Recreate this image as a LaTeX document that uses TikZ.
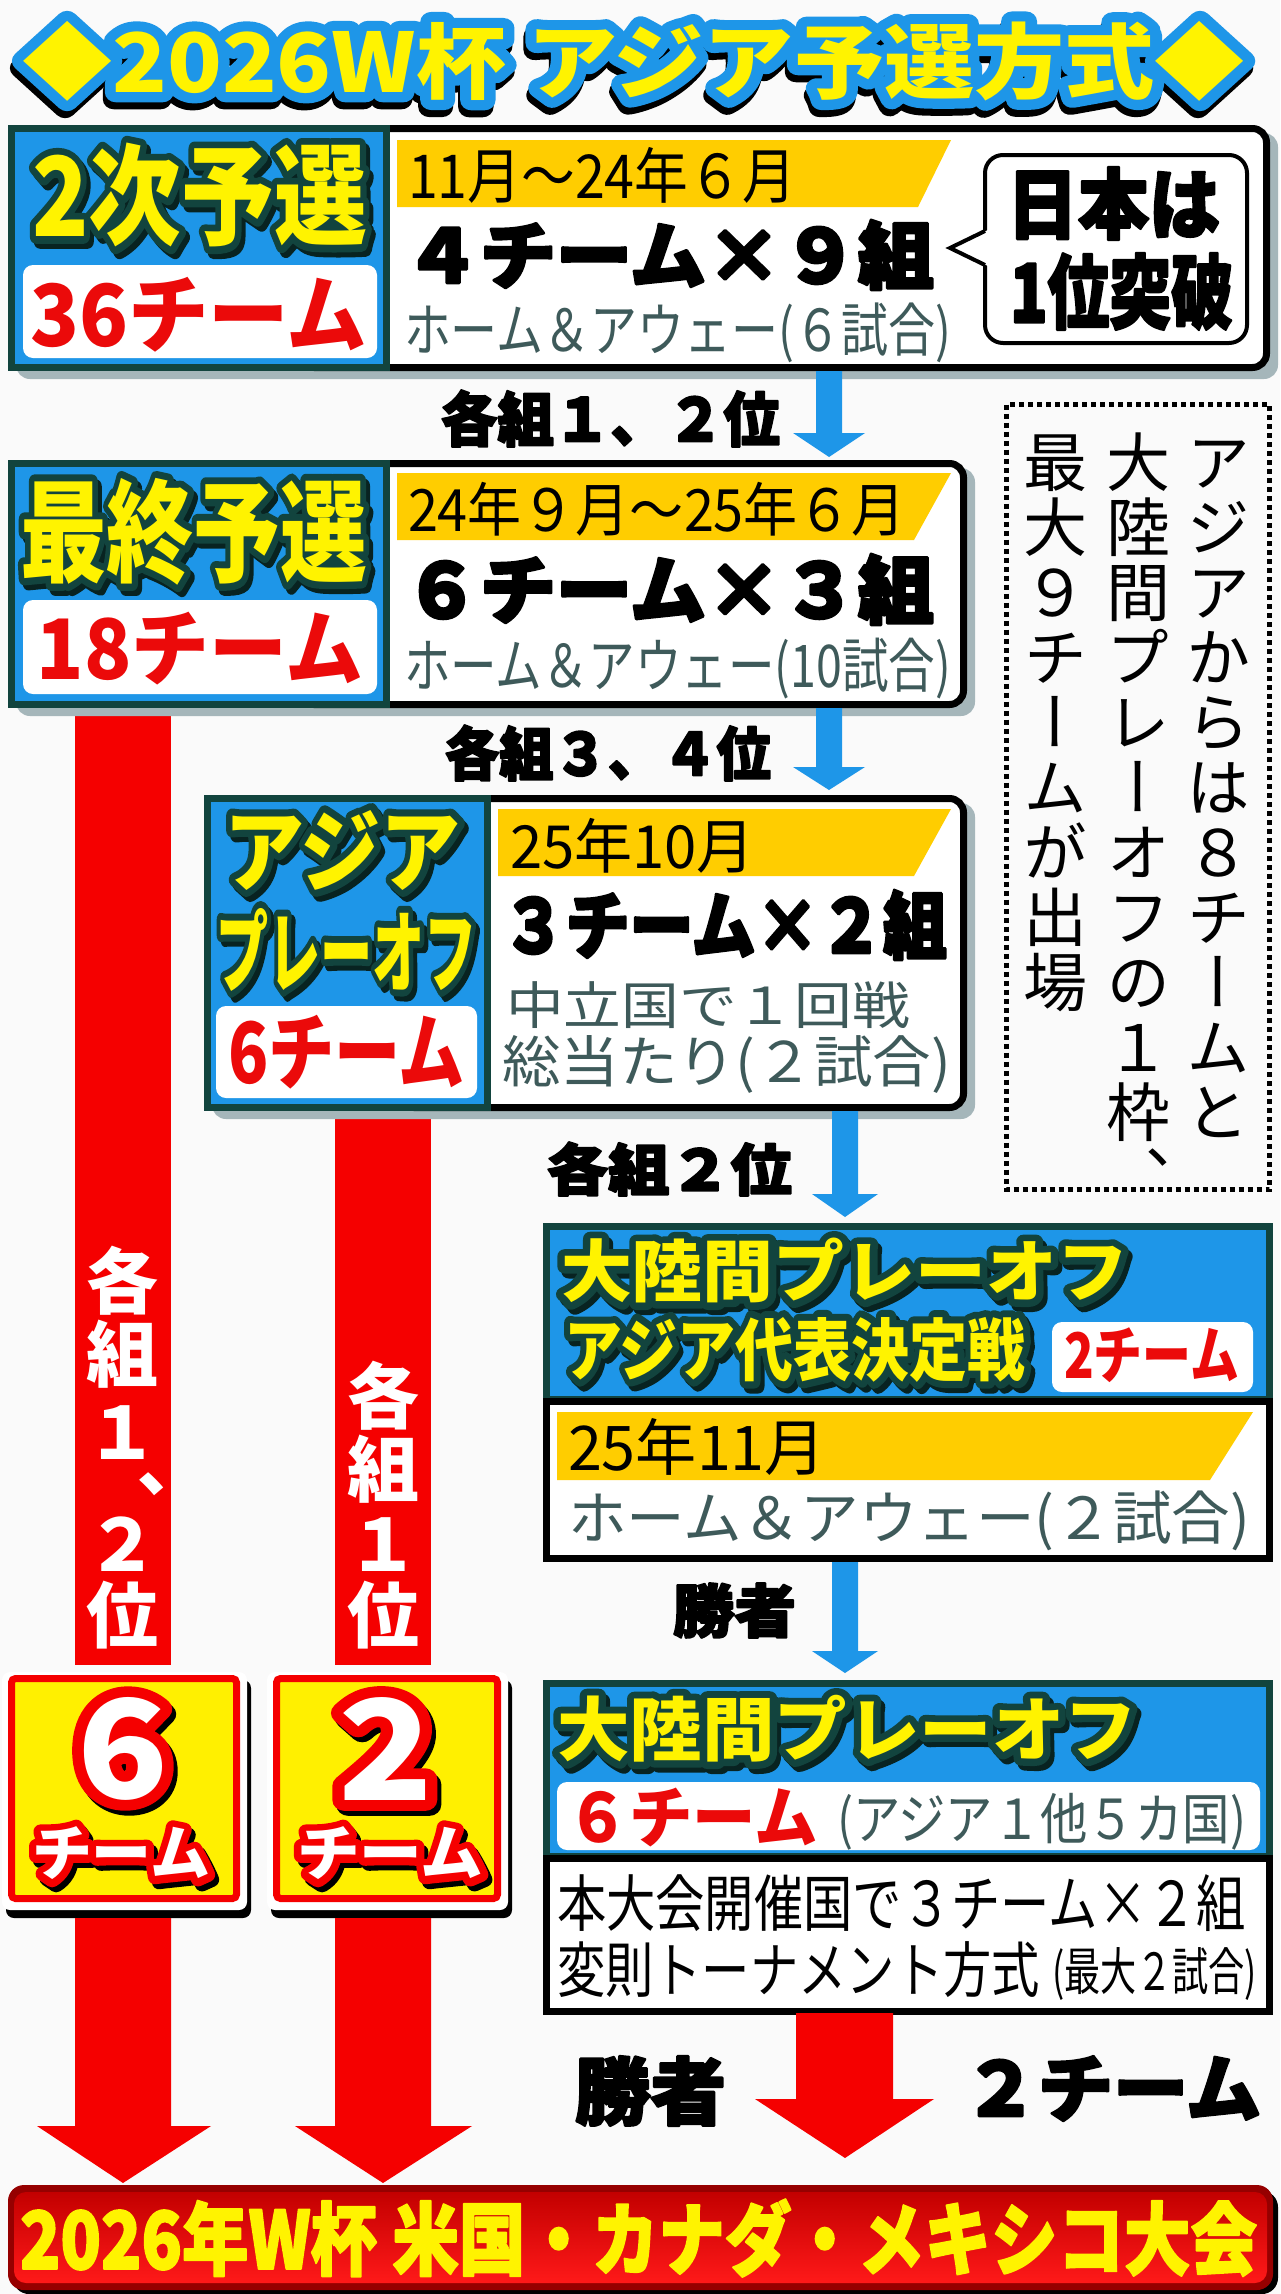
\documentclass[tikz,border=0pt]{standalone}
\usepackage{fontspec}
\usepackage{graphicx}
\newfontfamily\jp{Noto Sans CJK JP}
\newfontfamily\jpv[RawFeature=+vert]{Noto Sans CJK JP}
\newcommand{\fsz}[1]{\fontsize{#1}{#1}\selectfont}
\newcommand{\jpB}{\jp\bfseries}
\newcommand{\jpR}{\jp}
\newcommand{\jpBB}{\jp\bfseries\fontsize{72}{72}\selectfont}
\newcommand{\jpBV}{\jpv\bfseries\fontsize{72}{72}\selectfont}
\newcommand{\jpVR}{\jpv\fontsize{64}{64}\selectfont}
\definecolor{bgc}{RGB}{250,250,250}
\definecolor{pblue}{RGB}{30,150,232}
\definecolor{dteal}{RGB}{18,68,62}
\definecolor{dsh}{RGB}{8,35,33}
\definecolor{ybox}{RGB}{255,240,0}
\definecolor{ytxt}{RGB}{255,243,0}
\definecolor{gold}{RGB}{255,205,0}
\definecolor{gtxt}{RGB}{62,90,90}
\definecolor{rtxt}{RGB}{235,10,10}
\definecolor{rbar}{RGB}{245,0,0}
\definecolor{shgray}{RGB}{165,182,186}
\definecolor{dred}{RGB}{150,0,0}
\definecolor{redtop}{RGB}{195,0,0}
\definecolor{redmid}{RGB}{235,0,0}
\definecolor{redbot}{RGB}{255,25,25}
\tikzset{tx/.style={anchor=north west,inner sep=0pt,outer sep=0pt}}
% glyphs filled and stroked in one colour (outline layer, drop shadow, heavier weight)
\newcommand{\shtxt}[3]{%
  \special{x:gsave}\special{pdf:literal direct 2 Tr #1 w 1 j 1 J}{\color{#2}#3}\special{x:grestore}}
% text fitted to an ink box: name, x, y (top-left), W, H, content
\newcommand{\ftext}[6]{\node[tx] (#1) at (#2,#3) {\resizebox*{#4pt}{#5pt}{#6}};}
% outlined text: name, x, y, W, H, stroke width, outline colour, fill colour, text
\newcommand{\otx}[9]{%
  \node[tx] (#1o) at (#2,#3) {\resizebox*{#4pt}{#5pt}{\shtxt{#6}{#7}{#9}}};
  \node[tx] (#1) at (#2,#3) {\resizebox*{#4pt}{#5pt}{\color{#8}#9}};}
\newcommand{\vcol}[4]{%
 \foreach \c [count=\i from 0] in {#4}{%
   \node[anchor=base,inner sep=0pt,font=\jpVR] (#3\i) at (#1,#2+0.88*64+\i*65) {\c};}}
\begin{document}
\begin{tikzpicture}[x=1pt,y=-1pt]
\useasboundingbox (0,0) rectangle (1280,2294);
\fill[bgc] (0,0) rectangle (1280,2294);

% ---------- title
\ftext{titlesh}{20}{28}{1223}{80}{\shtxt{22}{black}{\jpB\fsz{89}◆2026W杯 アジア予選方式◆}}
\otx{title}{22}{21}{1223}{80}{22}{pblue}{ytxt}{\jpB\fsz{89}◆2026W杯 アジア予選方式◆}

% ---------- red bars (behind boxes)
\fill[rbar] (75,708) rectangle (171,1665);
\fill[rbar] (335,1111) rectangle (431,1665);

% ---------- box 1
\fill[shgray, rounded corners=14] (16,133) rectangle (1278,379);
\draw[line width=7, fill=white, rounded corners=14] (300,128.5) rectangle (1266.5,367.5);
\draw[line width=7, draw=dteal, fill=pblue] (11.5,128.5) rectangle (386.5,367.5);
\ftext{t2jis}{36}{148}{335}{104}{\shtxt{15}{dsh}{\jpB\fsz{115}2次予選}}
\otx{t2ji}{32}{143}{335}{104}{15}{dteal}{ytxt}{\jpB\fsz{115}2次予選}
\fill[white, rounded corners=10] (23,265) rectangle (377,358);
\ftext{t36}{30}{277}{337}{75}{\color{rtxt}\jpB\fsz{84}36チーム}
\fill[gold] (397,140) -- (951,140) -- (918,207) -- (397,207) -- cycle;
\ftext{d1}{408}{147}{388}{56}{\jpR\fsz{62}11月〜24年６月}
\ftext{g1}{404}{220}{530}{70}{\shtxt{3}{black}{\jpB\fsz{78}４チーム×９組}}
\ftext{h1}{404}{303}{547}{60}{\color{gtxt}\jpR\fsz{56}ホーム＆アウェー(６試合)}
\draw[line width=4, fill=white, rounded corners=18] (985,155) rectangle (1247,343);
\fill[white] (988,230) -- (949,248) -- (988,266) -- cycle;
\draw[line width=4, line join=miter] (985,231) -- (950,248) -- (985,265);
\ftext{jp1}{1007}{167}{213}{73}{\shtxt{2.5}{black}{\jpB\fsz{80}日本は}}
\ftext{jp2}{1010}{253}{223}{77}{\shtxt{2.5}{black}{\jpB\fsz{84}1位突破}}

% arrow 1
\fill[pblue] (816,371) -- (842,371) -- (842,433) -- (865,433) -- (829,457) -- (793,433) -- (816,433) -- cycle;
\ftext{l1}{441}{390}{339}{57}{\shtxt{2}{black}{\jpB\fsz{63}各組１、２位}}

% ---------- box 2
\fill[shgray, rounded corners=14] (16,468) rectangle (975,716);
\draw[line width=7, fill=white, rounded corners=14] (300,463.5) rectangle (963.5,704.5);
\draw[line width=7, draw=dteal, fill=pblue] (11.5,463.5) rectangle (386.5,704.5);
\ftext{tsais}{24}{483}{347}{107}{\shtxt{15}{dsh}{\jpB\fsz{118}最終予選}}
\otx{tsai}{20}{478}{347}{107}{15}{dteal}{ytxt}{\jpB\fsz{118}最終予選}
\fill[white, rounded corners=10] (23,600) rectangle (377,694);
\ftext{t18}{37}{612}{326}{73}{\color{rtxt}\jpB\fsz{82}18チーム}
\fill[gold] (397,473) -- (951,473) -- (914,540) -- (397,540) -- cycle;
\ftext{d2}{408}{482}{498}{54}{\jpR\fsz{60}24年９月〜25年６月}
\ftext{g2}{404}{554}{530}{71}{\shtxt{3}{black}{\jpB\fsz{79}６チーム×３組}}
\ftext{h2}{404}{638}{547}{61}{\color{gtxt}\jpR\fsz{57}ホーム＆アウェー(10試合)}

% arrow 2
\fill[pblue] (816,708) -- (842,708) -- (842,767) -- (865,767) -- (829,790) -- (793,767) -- (816,767) -- cycle;
\ftext{l2}{445}{725}{326}{56}{\shtxt{2}{black}{\jpB\fsz{62}各組３、４位}}

% ---------- box 3
\fill[shgray, rounded corners=14] (212,803) rectangle (975,1119);
\draw[line width=7, fill=white, rounded corners=14] (400,798.5) rectangle (963.5,1107.5);
\draw[line width=7, draw=dteal, fill=pblue] (207.5,798.5) rectangle (487.5,1107.5);
\ftext{tasias}{228}{815}{237}{80}{\shtxt{15}{dsh}{\jpB\fsz{95}アジア}}
\ftext{tpos}{220}{913}{261}{83}{\shtxt{15}{dsh}{\jpB\fsz{97}プレーオフ}}
\otx{tasia}{224}{810}{237}{80}{15}{dteal}{ytxt}{\jpB\fsz{95}アジア}
\otx{tpo}{216}{908}{261}{83}{15}{dteal}{ytxt}{\jpB\fsz{97}プレーオフ}
\fill[white, rounded corners=10] (216,1006) rectangle (477,1098);
\ftext{t6}{228}{1015}{237}{74}{\color{rtxt}\jpB\fsz{86}6チーム}
\fill[gold] (498,809) -- (951,809) -- (914,876) -- (498,876) -- cycle;
\ftext{d3}{510}{818}{245}{55}{\jpR\fsz{61}25年10月}
\ftext{g3}{502}{890}{445}{70}{\shtxt{3}{black}{\jpB\fsz{78}３チーム×２組}}
\ftext{h3a}{506}{982}{404}{47}{\color{gtxt}\jpR\fsz{52}中立国で１回戦}
\ftext{h3b}{502}{1035}{449}{58}{\color{gtxt}\jpR\fsz{55}総当たり(２試合)}

% arrow 3
\fill[pblue] (832,1111) -- (858,1111) -- (858,1194) -- (878,1194) -- (845,1217) -- (812,1194) -- (832,1194) -- cycle;
\ftext{l3}{547}{1142}{245}{54}{\shtxt{2}{black}{\jpB\fsz{60}各組２位}}

% ---------- box 4
\draw[line width=7, fill=white] (546.5,1401) rectangle (1269.5,1558.5);
\draw[line width=7, draw=dteal, fill=pblue] (546.5,1226.5) rectangle (1269.5,1399);
\draw[line width=7] (543,1401) -- (1273,1401);
\ftext{tic1s}{565}{1243}{567}{65}{\shtxt{15}{dsh}{\jpB\fsz{72}大陸間プレーオフ}}
\ftext{tic2s}{568}{1322}{462}{65}{\shtxt{15}{dsh}{\jpB\fsz{72}アジア代表決定戦}}
\otx{tic1}{561}{1238}{567}{65}{15}{dteal}{ytxt}{\jpB\fsz{72}大陸間プレーオフ}
\otx{tic2}{564}{1317}{462}{65}{15}{dteal}{ytxt}{\jpB\fsz{72}アジア代表決定戦}
\fill[white, rounded corners=10] (1052,1322) rectangle (1253,1392);
\ftext{t2}{1064}{1328}{175}{55}{\color{rtxt}\jpB\fsz{64}2チーム}
\fill[gold] (557,1412) -- (1253,1412) -- (1210,1480) -- (557,1480) -- cycle;
\ftext{d4}{568}{1418}{258}{57}{\jpR\fsz{63}25年11月}
\ftext{h4}{568}{1491}{682}{60}{\color{gtxt}\jpR\fsz{56}ホーム＆アウェー(２試合)}

% arrow 4
\fill[pblue] (832,1562) -- (858,1562) -- (858,1651) -- (878,1651) -- (845,1673) -- (812,1651) -- (832,1651) -- cycle;
\ftext{l4}{673}{1583}{123}{55}{\shtxt{2}{black}{\jpB\fsz{61}勝者}}

% ---------- box 5
\draw[line width=7, fill=white] (546.5,1858) rectangle (1269.5,2011.5);
\draw[line width=7, draw=dteal, fill=pblue] (546.5,1683.5) rectangle (1269.5,1856);
\draw[line width=7] (543,1858) -- (1273,1858);
\ftext{tic3s}{561}{1700}{580}{67}{\shtxt{15}{dsh}{\jpB\fsz{74}大陸間プレーオフ}}
\otx{tic3}{557}{1695}{580}{67}{15}{dteal}{ytxt}{\jpB\fsz{74}大陸間プレーオフ}
\fill[white, rounded corners=10] (557,1782) rectangle (1260,1850);
\ftext{t6b}{566}{1788}{252}{59}{\color{rtxt}\jpB\fsz{70}６チーム}
\ftext{h5}{837}{1793}{409}{57}{\color{gtxt}\jpR\fsz{54}(アジア１他５カ国)}
\ftext{m1}{557}{1875}{689}{57}{\jpR\fsz{63}本大会開催国で３チーム×２組}
\ftext{m2}{557}{1942}{483}{56}{\jpR\fsz{62}変則トーナメント方式}
\ftext{m3}{1052}{1948}{205}{53}{\jpR\fsz{50}(最大２試合)}

% ---------- red bar texts (vertical, one character per cell)
\node[inner sep=0pt,text=white,font=\jpBB] (ba1) at (122,1281) {各};
\node[inner sep=0pt,text=white,font=\jpBB] (ba2) at (122,1354) {組};
\node[inner sep=0pt,text=white,font=\jpBB] (ba3) at (122,1433) {１};
\node[anchor=base,inner sep=0pt,text=white,font=\jpBV] (ba4) at (130,1533) {、};
\node[inner sep=0pt,text=white,font=\jpBB] (ba5) at (122,1544) {２};
\node[inner sep=0pt,text=white,font=\jpBB] (ba6) at (122,1615) {位};
\node[inner sep=0pt,text=white,font=\jpBB] (bb1) at (383,1396) {各};
\node[inner sep=0pt,text=white,font=\jpBB] (bb2) at (383,1469) {組};
\node[inner sep=0pt,text=white,font=\jpBB] (bb3) at (383,1545) {１};
\node[inner sep=0pt,text=white,font=\jpBB] (bb4) at (383,1615) {位};

% ---------- yellow boxes
\fill[black, rounded corners=8] (6,1680) rectangle (251,1918);
\fill[white, rounded corners=8] (2,1672) rectangle (247,1910);
\draw[rbar, line width=7, fill=ybox, rounded corners=4] (11.5,1678.5) rectangle (236.5,1898.5);
\fill[black, rounded corners=8] (271,1680) rectangle (512,1918);
\fill[white, rounded corners=8] (267,1672) rectangle (508,1910);
\draw[rbar, line width=7, fill=ybox, rounded corners=4] (276.5,1678.5) rectangle (497.5,1898.5);
\ftext{y6s}{81}{1702}{91}{103}{\shtxt{22}{black}{\jpB\fsz{141}6}}
\otx{y6}{77}{1697}{91}{103}{22}{rbar}{white}{\jpB\fsz{141}6}
\ftext{y6ts}{36}{1832}{178}{53}{\shtxt{16}{black}{\jpB\fsz{66}チーム}}
\otx{y6t}{32}{1827}{178}{53}{16}{rbar}{white}{\jpB\fsz{66}チーム}
\ftext{y2s}{342}{1702}{95}{103}{\shtxt{22}{black}{\jpB\fsz{141}2}}
\otx{y2}{338}{1697}{95}{103}{22}{rbar}{white}{\jpB\fsz{141}2}
\ftext{y2ts}{301}{1832}{186}{53}{\shtxt{16}{black}{\jpB\fsz{66}チーム}}
\otx{y2t}{297}{1827}{186}{53}{16}{rbar}{white}{\jpB\fsz{66}チーム}

% ---------- red arrows to final
\fill[rbar] (75,1918) -- (171,1918) -- (171,2126) -- (211,2126) -- (123,2183) -- (37,2126) -- (75,2126) -- cycle;
\fill[rbar] (335,1918) -- (431,1918) -- (431,2126) -- (472,2126) -- (383,2183) -- (295,2126) -- (335,2126) -- cycle;
\fill[rbar] (796,2013) -- (893,2013) -- (893,2099) -- (934,2099) -- (845,2158) -- (755,2099) -- (796,2099) -- cycle;
\ftext{w2}{575}{2056}{151}{70}{\shtxt{2.5}{black}{\jpB\fsz{78}勝者}}
\ftext{two}{963}{2056}{298}{65}{\shtxt{2.5}{black}{\jpB\fsz{76}２チーム}}

% ---------- final banner
\fill[black, rounded corners=16] (13,2191) rectangle (1278,2294);
\fill[dred, rounded corners=16] (8,2185) rectangle (1273,2290);
\shade[rounded corners=12, top color=redtop, middle color=redmid, bottom color=redbot] (14,2192) rectangle (1267,2283);
\ftext{fin}{20}{2199}{1237}{78}{\shtxt{2}{ytxt}{\jpB\fsz{87}2026年W杯 米国・カナダ・メキシコ大会}}

% ---------- dotted note (vertical text)
\draw[line width=5, dash pattern=on 5pt off 4pt] (1006.5,404.5) rectangle (1269.5,1189.5);
\vcol{1218}{430}{va}{ア,ジ,ア,か,ら,は,８,チ,ー,ム,と}
\vcol{1138}{430}{vb}{大,陸,間,プ,レ,ー,オ,フ,の,１,枠,、}
\vcol{1055}{430}{vc}{最,大,９,チ,ー,ム,が,出,場}
\end{tikzpicture}
\end{document}
